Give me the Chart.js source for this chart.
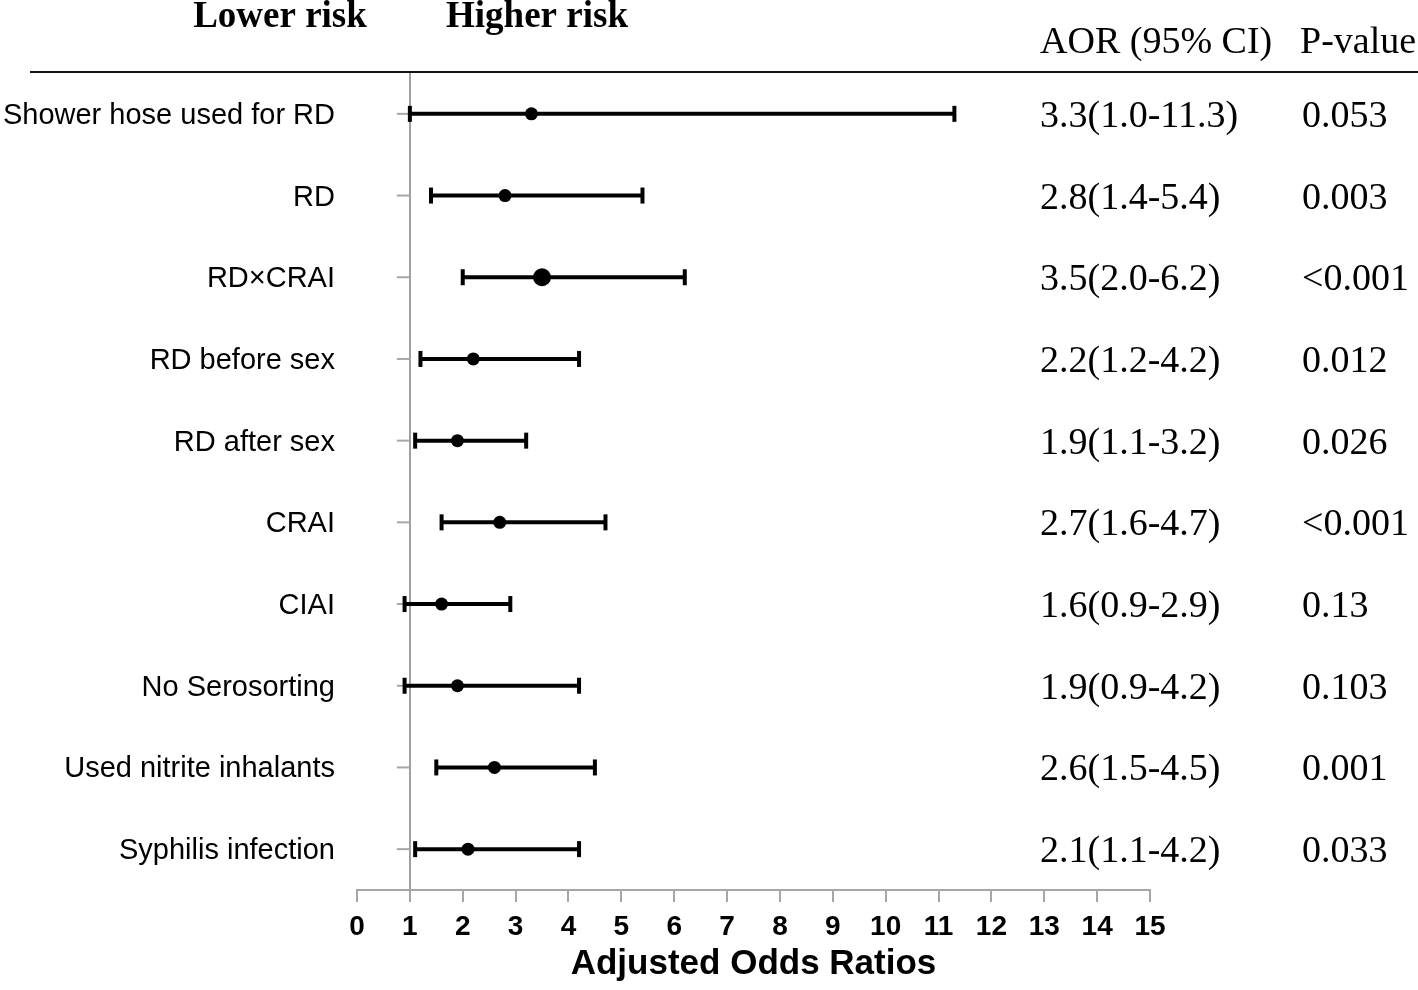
<!DOCTYPE html>
<html><head><meta charset="utf-8">
<script src="https://cdn.jsdelivr.net/npm/chart.js@4/dist/chart.umd.min.js"></script>
<style>html,body{margin:0;padding:0;background:#fff;}#wrap{width:1418px;height:990px;position:relative;}</style>
</head><body><div id="wrap"><canvas id="c" width="1418" height="990"></canvas></div>
<script>
const categories = ['Shower hose used for RD','RD','RD\u00d7CRAI','RD before sex','RD after sex','CRAI','CIAI','No Serosorting','Used nitrite inhalants','Syphilis infection'];
const aor = [3.3, 2.8, 3.5, 2.2, 1.9, 2.7, 1.6, 1.9, 2.6, 2.1];
const ciLow = [1.0, 1.4, 2.0, 1.2, 1.1, 1.6, 0.9, 0.9, 1.5, 1.1];
const ciHigh = [11.3, 5.4, 6.2, 4.2, 3.2, 4.7, 2.9, 4.2, 4.5, 4.2];
const pValues = ['0.053','0.003','<0.001','0.012','0.026','<0.001','0.13','0.103','0.001','0.033'];
const xTicks = [0,1,2,3,4,5,6,7,8,9,10,11,12,13,14,15];
const refValue = 1;
const headerLeft = 'Lower risk', headerRight = 'Higher risk';
const colHeaders = ['AOR (95% CI)', 'P-value'];

const SERIF = '"Liberation Serif","Times New Roman",serif';
const SANS = '"Liberation Sans",Arial,sans-serif';

const forestPlugin = {
  id: 'forest',
  beforeDatasetsDraw(chart) {
    const {ctx, scales: {x, y}, chartArea} = chart;
    ctx.save();
    ctx.strokeStyle = '#111';
    ctx.lineWidth = 2;
    ctx.beginPath(); ctx.moveTo(30, chartArea.top - 1); ctx.lineTo(1418, chartArea.top - 1); ctx.stroke();
    const xr = x.getPixelForValue(refValue);
    ctx.strokeStyle = '#a6a6a6';
    ctx.lineWidth = 2;
    categories.forEach((c, i) => {
      const py = y.getPixelForValue(i);
      ctx.beginPath(); ctx.moveTo(xr - 13, py); ctx.lineTo(xr, py); ctx.stroke();
    });
    ctx.strokeStyle = '#000';
    ctx.lineWidth = 4;
    ctx.lineCap = 'butt';
    categories.forEach((c, i) => {
      const py = y.getPixelForValue(i);
      const x1 = x.getPixelForValue(ciLow[i]);
      const x2 = x.getPixelForValue(ciHigh[i]);
      ctx.beginPath(); ctx.moveTo(x1, py); ctx.lineTo(x2, py); ctx.stroke();
      ctx.beginPath(); ctx.moveTo(x1, py - 8); ctx.lineTo(x1, py + 8); ctx.stroke();
      ctx.beginPath(); ctx.moveTo(x2, py - 8); ctx.lineTo(x2, py + 8); ctx.stroke();
    });
    ctx.restore();
  },
  afterDraw(chart) {
    const {ctx, scales: {y}} = chart;
    ctx.save();
    ctx.fillStyle = '#000';
    ctx.textBaseline = 'alphabetic';
    ctx.font = 'bold 37px ' + SERIF;
    ctx.textAlign = 'center';
    ctx.fillText(headerLeft, 280, 27);
    ctx.fillText(headerRight, 537, 27);
    ctx.font = '38px ' + SERIF;
    ctx.textAlign = 'left';
    ctx.fillText(colHeaders[0], 1040, 53);
    ctx.fillText(colHeaders[1], 1300, 53);
    categories.forEach((c, i) => {
      const py = y.getPixelForValue(i);
      const t = aor[i].toFixed(1) + '(' + ciLow[i].toFixed(1) + '-' + ciHigh[i].toFixed(1) + ')';
      ctx.fillText(t, 1040, py + 13);
      ctx.fillText(pValues[i], 1302, py + 13);
    });
    ctx.restore();
  }
};

new Chart(document.getElementById('c'), {
  type: 'scatter',
  data: {
    labels: categories,
    datasets: [{
      data: categories.map((c, i) => ({x: aor[i], y: c})),
      backgroundColor: '#000',
      borderColor: '#000',
      pointRadius: ctx => (ctx.dataIndex === 2 ? 9 : 6.5),
      pointHoverRadius: ctx => (ctx.dataIndex === 2 ? 9 : 6.5),
      borderWidth: 0
    }]
  },
  options: {
    responsive: false,
    animation: false,
    devicePixelRatio: 1,
    layout: {padding: {top: 73, right: 268, bottom: 0, left: 0}},
    plugins: {legend: {display: false}, tooltip: {enabled: false}},
    scales: {
      x: {
        type: 'linear', min: 0, max: 15,
        afterBuildTicks: s => { s.ticks = xTicks.map(v => ({value: v})); },
        afterFit: s => { s.height = 100; },
        ticks: {color: '#000', font: {family: SANS, size: 28, weight: 'bold'}, padding: 8, maxRotation: 0, autoSkip: false},
        grid: {
          color: ctx => (ctx.tick && ctx.tick.value === refValue ? '#a0a0a0' : 'rgba(0,0,0,0)'),
          lineWidth: 2, tickLength: 12, tickColor: '#a6a6a6', tickWidth: 2, drawOnChartArea: true
        },
        border: {color: '#a6a6a6', width: 2},
        title: {display: true, text: 'Adjusted Odds Ratios', color: '#000', font: {family: SANS, size: 35, weight: 'bold'}, padding: {top: 0, bottom: 5}}
      },
      y: {
        type: 'category', labels: categories, offset: true,
        afterFit: s => { s.width = 357; },
        ticks: {color: '#000', font: {family: SANS, size: 29}, padding: 14, labelOffset: 2, autoSkip: false},
        grid: {display: false},
        border: {display: false}
      }
    }
  },
  plugins: [forestPlugin]
});
</script></body></html>
